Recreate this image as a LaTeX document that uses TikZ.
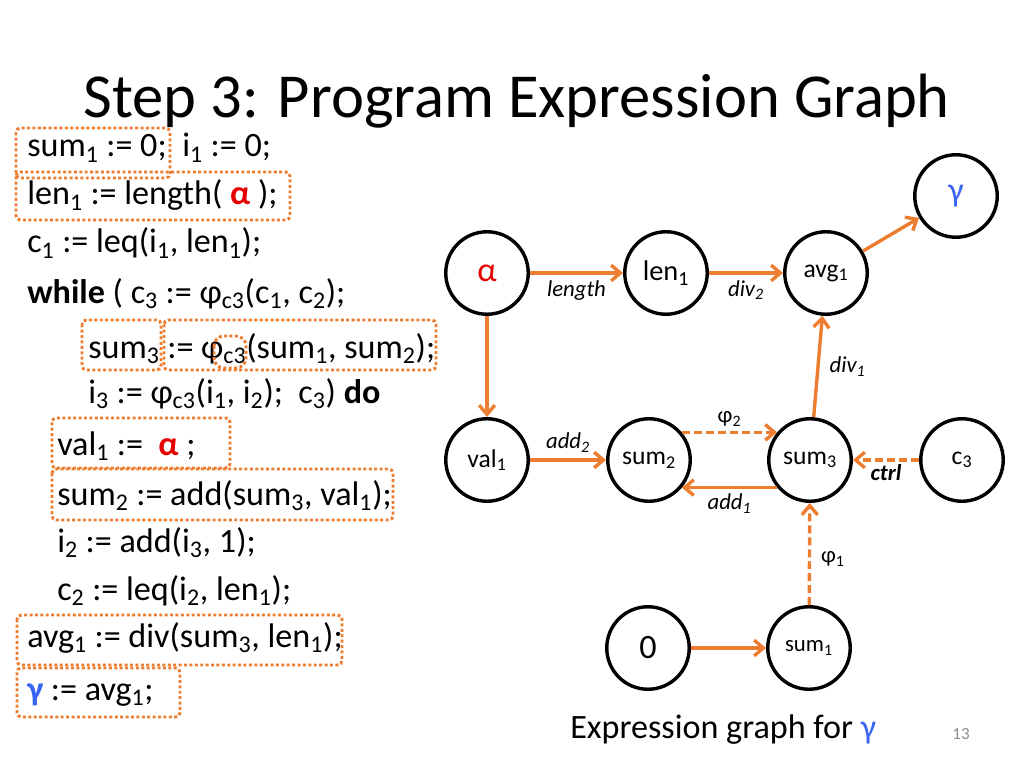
\documentclass[tikz,border=0pt]{standalone}
\usepackage{fontspec}
\setmainfont{Carlito}
\usetikzlibrary{arrows.meta}
\definecolor{orng}{RGB}{237,125,49}
\definecolor{gblue}{RGB}{55,100,240}
\definecolor{ared}{RGB}{230,0,0}
\newcommand\sbs[1]{\textsubscript{#1}}
\begin{document}
\begin{tikzpicture}[x=0.703125pt,y=-0.703125pt,
  code/.style={anchor=base west,inner sep=0pt,font=\fontsize{24}{28}\selectfont},
  hl/.style={draw=orng,line width=2.1pt,dash pattern=on 2.1pt off 1.7pt,rounded corners=3pt},
  vert/.style={circle,draw=black,line width=2.4pt,minimum size=58pt,inner sep=0pt,font=\fontsize{20}{24}\selectfont},
  edge/.style={draw=orng,line width=2.4pt,-{Straight Barb[length=6.5pt,width=11pt]}},
  dedge/.style={edge,dash pattern=on 5.6pt off 2.8pt},
  elab/.style={inner sep=1pt,font=\fontsize{16}{19}\selectfont\itshape}]
\useasboundingbox (0,0) rectangle (1024,768);
% title
\node[anchor=base west,inner sep=0pt,font=\fontsize{44}{50}\selectfont] (title) at (83,118) {Step 3: Program Expression Graph};
% code
\node[code] (l1) at (27,157) {sum\sbs{1} := 0;};
\node[code] (l1b) at (182,157) {i\sbs{1} := 0;};
\node[code] (l2) at (27,205) {len\sbs{1} := length( {\bfseries\color{ared}α} );};
\node[code] (l3) at (27,253) {c\sbs{1} := leq(i\sbs{1}, len\sbs{1});};
\node[code] (l4) at (27,303) {\textbf{while} ( c\sbs{3} := φ\sbs{c3}(c\sbs{1}, c\sbs{2});};
\node[code] (l5) at (88,358) {sum\sbs{3} := φ\sbs{c3}(sum\sbs{1}, sum\sbs{2});};
\node[code] (l6) at (88,403) {i\sbs{3} := φ\sbs{c3}(i\sbs{1}, i\sbs{2});~ c\sbs{3}) \textbf{do}};
\node[code] (l7) at (57,455) {val\sbs{1} :=~ {\bfseries\color{ared}α} ;};
\node[code] (l8) at (57,505) {sum\sbs{2} := add(sum\sbs{3}, val\sbs{1});};
\node[code] (l9) at (57,552) {i\sbs{2} := add(i\sbs{3}, 1);};
\node[code] (l10) at (57,600) {c\sbs{2} := leq(i\sbs{2}, len\sbs{1});};
\node[code] (l11) at (27,647) {avg\sbs{1} := div(sum\sbs{3}, len\sbs{1});};
\node[code] (l12) at (27,700) {{\bfseries\color{gblue}γ} := avg\sbs{1};};
% highlight boxes
\draw[hl] (16,128) rectangle (170,178);
\draw[hl] (16,172) rectangle (290,220);
\draw[hl] (82,320) rectangle (161,370);
\draw[hl] (164,320) rectangle (436,370);
\draw[hl,rounded corners=7pt] (214,336) rectangle (246,368);
\draw[hl] (52,418) rectangle (230,468);
\draw[hl] (52,469) rectangle (393,520);
\draw[hl] (17,615) rectangle (342,665);
\draw[hl] (17,668) rectangle (180,717);
% graph nodes
\node[vert,text=ared,font=\fontsize{24}{28}\selectfont] (alpha) at (487,273) {α};
\node[vert] (len) at (666,273) {len\sbs{1}};
\node[vert,font=\fontsize{18}{22}\selectfont] (avg) at (826,273) {\raisebox{3pt}{avg\sbs{1}}};
\node[vert,text=gblue,font=\fontsize{24}{28}\selectfont] (gamma) at (956,196) {γ};
\node[vert,font=\fontsize{18}{22}\selectfont] (val) at (487,460) {val\sbs{1}};
\node[vert,font=\fontsize{18}{22}\selectfont] (sumtwo) at (649,460) {sum\sbs{2}};
\node[vert,font=\fontsize{18}{22}\selectfont] (sumthree) at (810,460) {sum\sbs{3}};
\node[vert,font=\fontsize{18}{22}\selectfont] (cthree) at (962,460) {c\sbs{3}};
\node[vert,font=\fontsize{24}{28}\selectfont] (zero) at (648,648) {0};
\node[vert,font=\fontsize{16}{19}\selectfont] (sumone) at (809,648) {sum\sbs{1}};
% edges
\draw[edge] (alpha) -- node[elab,below=3pt] (llength) {length} (len);
\draw[edge] (len) -- node[elab,below=3pt] (ldiv2) {div\sbs{2}} (avg);
\draw[edge] (avg) -- (gamma);
\draw[edge] (alpha) -- (val);
\draw[edge] (val) -- node[elab,above=3pt] (ladd2) {add\sbs{2}} (sumtwo);
\draw[dedge] (sumtwo.40) -- node[elab,above=2pt,font=\fontsize{16}{19}\selectfont] (lphi2) {φ\sbs{2}} (sumthree.140);
\draw[edge] (sumthree.-140) -- node[elab,below=2pt] (ladd1) {add\sbs{1}} (sumtwo.-40);
\draw[edge] (sumthree) -- node[elab,right=6pt] (ldiv1) {div\sbs{1}} (avg);
\draw[dedge] (cthree) -- node[elab,below=1pt,font=\fontsize{16}{19}\selectfont\bfseries\itshape] (lctrl) {ctrl} (sumthree);
\draw[dedge] (sumone) -- node[elab,right=6pt,pos=0.45,font=\fontsize{16}{19}\selectfont] (lphi1) {φ\sbs{1}} (sumthree);
\draw[edge] (zero) -- (sumone);
% caption
\node[anchor=base west,inner sep=0pt,font=\fontsize{24}{28}\selectfont] (cap) at (570,738) {Expression graph for {\color{gblue}γ}};
\node[anchor=base,inner sep=0pt,font=\fontsize{12}{14}\selectfont,text=black!45] (pnum) at (961,739) {13};
\end{tikzpicture}
\end{document}
